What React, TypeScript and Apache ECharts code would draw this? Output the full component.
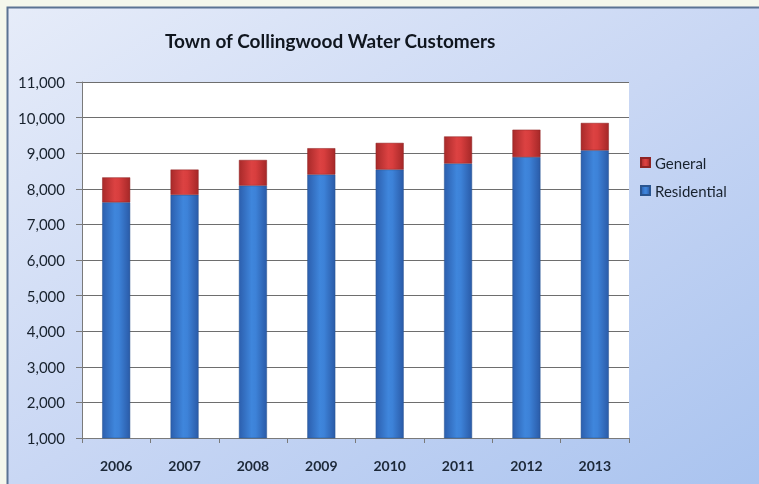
import React, { useEffect, useRef } from "react";
import * as echarts from "echarts";

const years = ["2006", "2007", "2008", "2009", "2010", "2011", "2012", "2013"];
const residential = [7620, 7830, 8090, 8400, 8540, 8710, 8890, 9080];
const general = [700, 710, 720, 740, 750, 760, 770, 770];
const yMin = 1000;
const yMax = 11000;
const yStep = 1000;
const titleText = "Town of Collingwood Water Customers";

export default function App() {
  const ref = useRef<HTMLDivElement>(null);
  useEffect(() => {
    if (!ref.current) return;
    const chart = echarts.init(ref.current, undefined, { renderer: "svg" });
    const font = "Lato, 'Open Sans', sans-serif";
    const blue = {
      type: "linear", x: 0, y: 0, x2: 1, y2: 0,
      colorStops: [
        { offset: 0, color: "#2c5fae" },
        { offset: 0.45, color: "#3f86dc" },
        { offset: 0.6, color: "#3d82d8" },
        { offset: 1, color: "#2a5ba8" },
      ],
    };
    const red = {
      type: "linear", x: 0, y: 0, x2: 1, y2: 0,
      colorStops: [
        { offset: 0, color: "#a82a2a" },
        { offset: 0.45, color: "#dc4242" },
        { offset: 0.6, color: "#d83e3e" },
        { offset: 1, color: "#a52828" },
      ],
    };
    chart.setOption({
      animation: false,
      graphic: [
        {
          type: "rect", z: -10, silent: true,
          shape: { x: 0, y: 0, width: 759, height: 484 },
          style: { fill: "#f4f7ec" },
        },
        {
          type: "rect", z: -9, silent: true,
          shape: { x: 7.5, y: 7.5, width: 760, height: 480 },
          style: {
            fill: {
              type: "linear", x: 0, y: 0, x2: 1, y2: 1,
              colorStops: [
                { offset: 0, color: "#e6ecf9" },
                { offset: 0.5, color: "#c9d7f4" },
                { offset: 1, color: "#a9c3ef" },
              ],
            },
            stroke: "#5b7393",
            lineWidth: 2,
          },
        },
        {
          type: "text", z: 10, left: 165, top: 31,
          style: { text: titleText, font: `bold 19px ${font}`, fill: "#10161f" },
        },
      ],
      legend: {
        orient: "vertical",
        left: 635,
        top: 150,
        itemWidth: 9,
        itemHeight: 9,
        itemGap: 13,
        icon: "rect",
        data: ["General", "Residential"],
        textStyle: { fontFamily: font, fontSize: 15, color: "#18222e" },
      },
      grid: {
        left: 82, right: 130, top: 82, bottom: 46,
        show: true, backgroundColor: "#ffffff", borderWidth: 0,
      },
      xAxis: {
        type: "category",
        data: years,
        axisLine: { lineStyle: { color: "#7a7a7a", width: 1 } },
        axisTick: { show: true, length: 5, lineStyle: { color: "#7a7a7a" } },
        axisLabel: { fontFamily: font, fontSize: 14, fontWeight: "bold", color: "#1c2838", margin: 20 },
      },
      yAxis: {
        type: "value",
        min: yMin, max: yMax, interval: yStep,
        axisLine: { show: true, lineStyle: { color: "#7a7a7a" } },
        axisTick: { show: true, length: 6, lineStyle: { color: "#7a7a7a" } },
        axisLabel: {
          fontFamily: font, fontSize: 15, color: "#18222e", margin: 17,
          formatter: (v: number) => v.toLocaleString("en-US"),
        },
        splitLine: { lineStyle: { color: "#6e6e6e", width: 1 } },
      },
      series: [
        {
          name: "Residential", type: "bar", stack: "total", barWidth: 28,
          data: residential,
          itemStyle: { color: blue, borderColor: "#2a5590", borderWidth: 0.5 },
        },
        {
          name: "General", type: "bar", stack: "total", barWidth: 28,
          data: general,
          itemStyle: { color: red, borderColor: "#8e2424", borderWidth: 0.5 },
        },
      ],
    });
    return () => chart.dispose();
  }, []);
  return (
    <div
      ref={ref}
      style={{ position: "fixed", left: 0, top: 0, width: 759, height: 484 }}
    />
  );
}
